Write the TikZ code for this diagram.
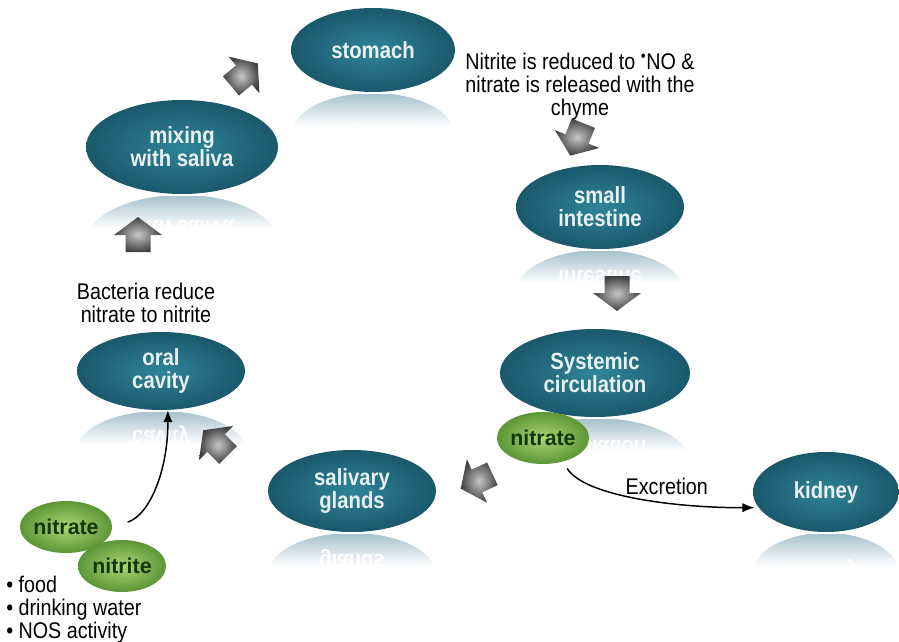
\documentclass[tikz,border=0pt]{standalone}
\usepackage{fontspec}
\setmainfont{Liberation Sans}[FakeStretch=0.87]
\newfontfamily\plainsans{Liberation Sans}
\usepackage{tikz}
\usetikzlibrary{shapes.geometric,arrows.meta}

\definecolor{tealin}{RGB}{47,132,152}
\definecolor{tealout}{RGB}{27,88,108}
\definecolor{tealtext}{RGB}{232,240,242}
\definecolor{mirror}{RGB}{168,194,206}
\definecolor{leafin}{RGB}{172,214,116}
\definecolor{leafout}{RGB}{92,150,54}
\definecolor{leaftext}{RGB}{18,56,10}

\tikzset{
  organ/.style={ellipse, inner sep=0pt, align=center, shading=radial,
    inner color=tealin, outer color=tealout, text=tealtext,
    font=\bfseries\fontsize{17.5}{17.25}\selectfont},
  echo/.style={inner sep=0pt, align=center, yscale=-1, text=white,
    font=\bfseries\fontsize{17.5}{17.25}\selectfont},
  leaf/.style={ellipse, inner sep=0pt, minimum width=66pt, minimum height=39pt,
    shading=radial, inner color=leafin, outer color=leafout, text=leaftext,
    font=\plainsans\bfseries\fontsize{16}{18}\selectfont},
  note/.style={inner sep=0pt, align=center, font=\fontsize{17}{17.25}\selectfont},
  link/.style={-{Latex[length=9pt,width=7pt]}, line width=1.1pt},
  fatarrow/.pic={
    \shade[inner color=black!22, outer color=black!75]
      (-17,-12.5) -- (0,-12.5) -- (0,-24) -- (18,0) -- (0,24) -- (0,12.5) -- (-17,12.5) -- cycle;
  }
}

\begin{document}
\begin{tikzpicture}[x=0.75pt,y=0.75pt,yscale=-1,xscale=1]
\useasboundingbox (0,0) rectangle (899,642);

% organs, each with its reflection underneath
\foreach \n/\x/\y/\a/\b/\t in {
    stomach/373/50/82/42/{stomach},
    mixing/182/147/96/47/{mixing\\with saliva},
    intestine/600/207/84/42/{small\\intestine},
    oral/161/371/84/39/{oral\\cavity},
    systemic/595/373/95/44/{Systemic\\circulation},
    glands/352/491/84/41/{salivary\\glands},
    kidney/826/492/73/40/{kidney}}{
  \begin{scope}
    \clip (\x,\y+2*\b+1) ellipse ({\a} and {\b});
    \shade[top color=mirror, bottom color=white] (\x-\a,\y+\b+2) rectangle (\x+\a,\y+\b+34);
    \node[echo] at (\x,\y+2*\b-1) {\t};
  \end{scope}
  \node[organ, minimum width=2*\a*0.75pt, minimum height=2*\b*0.75pt] (\n) at (\x,\y) {\t};
}

% block arrows
\pic[rotate=40] at (244,75) {fatarrow};
\pic[rotate=90] at (138,235) {fatarrow};
\pic[rotate=-112] at (577,139) {fatarrow};
\pic[rotate=-90] at (617,293) {fatarrow};
\pic[rotate=-155] at (477,481) {fatarrow};
\pic[rotate=135] at (216,443) {fatarrow};

% nitrate / nitrite
\node[leaf] (snitrate) at (543,438) {nitrate};
\node[leaf] (lnitrate) at (66,527) {nitrate};
\node[leaf] (lnitrite) at (122,566) {nitrite};

% notes
\node[note] (chyme) at (580,87) {Nitrite is reduced to \textsuperscript{\textbullet}NO \&\\nitrate is released with the\\chyme};
\node[note] (bacteria) at (146,303) {Bacteria reduce\\nitrate to nitrite};
\node[note, align=left, anchor=west] (sources) at (6,610) {\textbullet\ food\\\textbullet\ drinking water\\\textbullet\ NOS activity};

% connectors
\draw[link, shorten <=12pt] (lnitrate.east) .. controls (150,515) and (168,470) .. (oral.-80);
\draw[link, shorten <=6pt, shorten >=3pt] (snitrate.-50) .. controls (585,497) and (680,508) .. (kidney.193)
  node[note, pos=0.62, anchor=south, yshift=5pt] (excretion) {Excretion};
\end{tikzpicture}
\end{document}
